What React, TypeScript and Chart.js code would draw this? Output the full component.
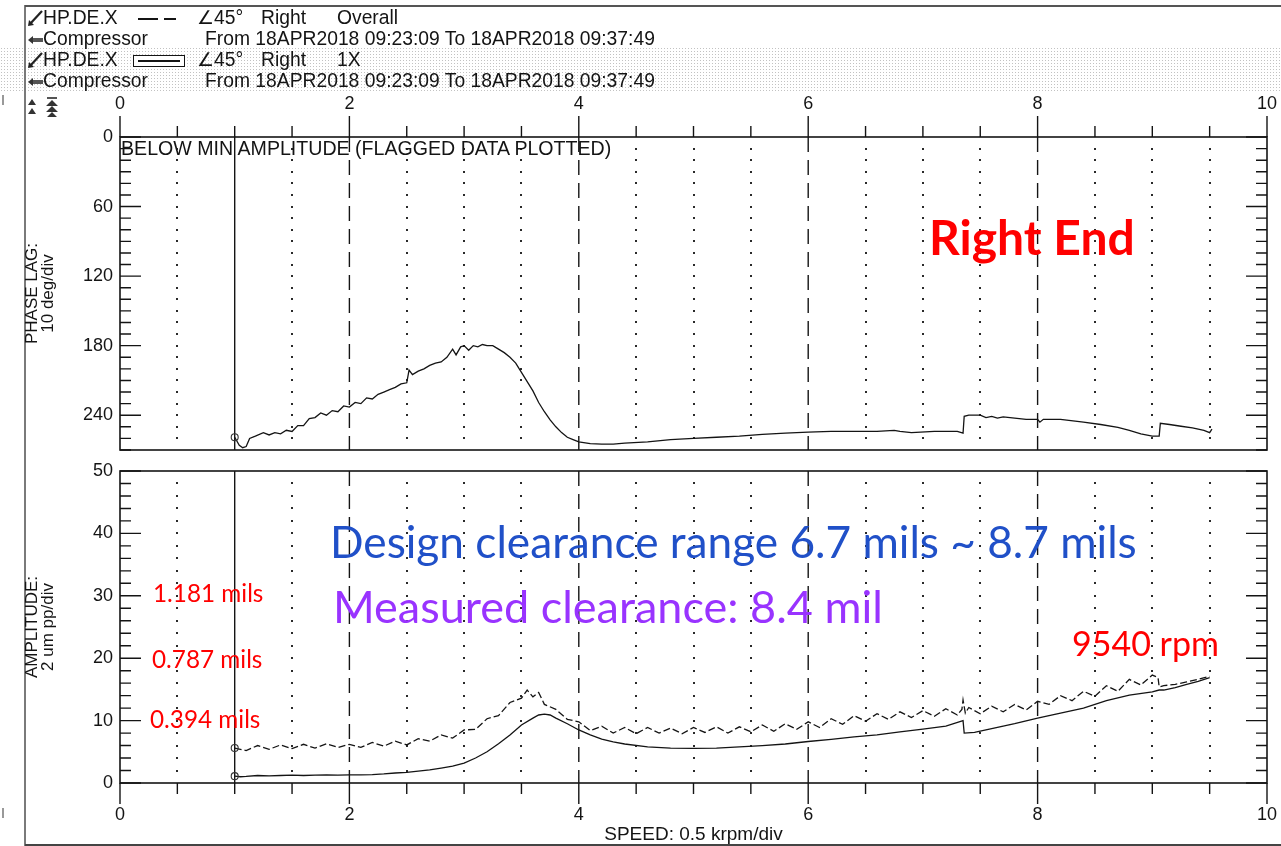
import React, { useEffect, useRef } from 'react';
import { Chart, registerables } from 'chart.js';

Chart.register(...registerables);

// ---------------- data (speed in krpm) ----------------
const phaseSpeed = [
  1.00, 1.04, 1.07, 1.10, 1.13, 1.18, 1.25, 1.30, 1.35, 1.40,
  1.45, 1.50, 1.55, 1.60, 1.65, 1.70, 1.75, 1.80, 1.85, 1.90,
  1.95, 2.00, 2.05, 2.10, 2.15, 2.20, 2.25, 2.30, 2.35, 2.40,
  2.45, 2.50, 2.52, 2.55, 2.60, 2.65, 2.70, 2.75, 2.80, 2.85,
  2.90, 2.93, 2.97, 3.00, 3.04, 3.08, 3.12, 3.16, 3.20, 3.25,
  3.30, 3.35, 3.40, 3.45, 3.50, 3.55, 3.60, 3.65, 3.70, 3.75,
  3.80, 3.85, 3.90, 3.95, 4.00, 4.10, 4.20, 4.30, 4.40, 4.60,
  4.80, 5.00, 5.20, 5.40, 5.60, 5.80, 6.00, 6.20, 6.40, 6.60,
  6.75, 6.80, 6.90, 7.10, 7.30, 7.35, 7.36, 7.40, 7.50, 7.55,
  7.60, 7.65, 7.70, 7.80, 7.90, 8.00, 8.02, 8.05, 8.20, 8.40,
  8.55, 8.70, 8.80, 8.90, 9.00, 9.06, 9.07, 9.15, 9.25, 9.35,
  9.45, 9.50, 9.52,
];
const phaseLag = [
  259, 266, 268, 267, 260, 258, 255, 257, 255, 256,
  253, 254, 249, 249, 243, 242, 238, 240, 236, 237,
  232, 233, 229, 230, 225, 226, 222, 220, 218, 216,
  213, 212, 201, 205, 202, 200, 197, 195, 194, 190,
  183, 188, 181, 180, 184, 180, 181, 179, 180, 180,
  183, 186, 190, 195, 203, 211, 219, 229, 237, 244,
  250, 255, 259, 261, 263, 264.5, 265, 265, 264, 263,
  261, 260, 259, 258, 256.5, 255.5, 254.5, 254, 254, 254,
  253, 254, 255, 254, 254, 255.5, 241, 240, 240, 242,
  241, 242.5, 241.5, 242.5, 243.5, 243.5, 246, 243.5, 243.5, 246,
  248, 250.5, 253, 256, 258, 258, 247, 248, 249.5, 251,
  253, 255, 252,
];

const amp1XSpeed = [
  1.0, 1.05, 1.1, 1.2, 1.3, 1.4, 1.5, 1.6, 1.7, 1.8,
  1.9, 2.0, 2.1, 2.2, 2.3, 2.4, 2.5, 2.6, 2.7, 2.8,
  2.9, 3.0, 3.1, 3.2, 3.3, 3.4, 3.5, 3.6, 3.65, 3.7,
  3.75, 3.8, 3.9, 4.0, 4.1, 4.2, 4.3, 4.4, 4.6, 4.8,
  5.0, 5.2, 5.4, 5.6, 5.8, 6.0, 6.2, 6.4, 6.6, 6.8,
  7.0, 7.2, 7.35, 7.36, 7.45, 7.6, 7.8, 8.0, 8.2, 8.4,
  8.6, 8.8, 9.0, 9.06, 9.1, 9.2, 9.3, 9.4, 9.5,
];
const amp1X = [
  1.1, 1.0, 1.05, 1.2, 1.15, 1.2, 1.25, 1.2, 1.25, 1.3,
  1.25, 1.3, 1.3, 1.35, 1.45, 1.6, 1.7, 1.9, 2.1, 2.4,
  2.7, 3.2, 4.0, 5.0, 6.3, 7.7, 9.3, 10.4, 10.9, 11.05,
  10.9, 10.4, 9.5, 8.5, 7.7, 7.05, 6.6, 6.25, 5.8, 5.6,
  5.55, 5.6, 5.8, 6.0, 6.25, 6.65, 7.0, 7.4, 7.7, 8.2,
  8.65, 9.1, 10.0, 8.0, 8.1, 8.7, 9.5, 10.4, 11.2, 12.0,
  13.2, 14.1, 14.6, 14.9, 14.9, 15.3, 15.8, 16.3, 16.9,
];

const ampOverallSpeed = [
  1.0, 1.1, 1.2, 1.3, 1.4, 1.5, 1.6, 1.7, 1.8, 1.9,
  2.0, 2.1, 2.2, 2.3, 2.4, 2.5, 2.6, 2.7, 2.8, 2.9,
  3.0, 3.1, 3.2, 3.3, 3.4, 3.5, 3.55, 3.6, 3.65, 3.7,
  3.8, 3.9, 4.0, 4.1, 4.2, 4.3, 4.4, 4.5, 4.6, 4.7,
  4.8, 4.9, 5.0, 5.1, 5.2, 5.3, 5.4, 5.5, 5.6, 5.7,
  5.8, 5.9, 6.0, 6.1, 6.2, 6.3, 6.4, 6.5, 6.6, 6.7,
  6.8, 6.9, 7.0, 7.1, 7.2, 7.3, 7.34, 7.35, 7.37, 7.4,
  7.5, 7.6, 7.7, 7.8, 7.9, 8.0, 8.1, 8.2, 8.3, 8.4,
  8.5, 8.6, 8.7, 8.8, 8.9, 9.0, 9.05, 9.06, 9.1, 9.2,
  9.3, 9.4, 9.5,
];
const ampOverall = [
  5.6, 5.2, 6.0, 5.4, 6.1, 5.5, 6.2, 5.6, 6.3, 5.7,
  6.2, 5.7, 6.5, 5.9, 6.7, 6.1, 7.1, 6.7, 7.7, 7.2,
  8.5, 8.6, 10.3, 10.8, 12.9, 13.6, 14.9, 13.8, 14.5, 12.6,
  11.8, 10.2, 9.8, 8.4, 9.1, 8.0, 8.9, 7.9, 8.9, 8.0,
  8.8, 7.9, 8.9, 8.1, 9.0, 8.0, 9.0, 8.2, 9.3, 8.3,
  9.5, 8.6, 9.8, 8.9, 10.3, 9.4, 10.8, 9.9, 11.1, 10.2,
  11.4, 10.5, 11.6, 10.7, 11.9, 10.9, 11.8, 13.3, 11.2, 12.1,
  11.1, 12.3, 11.4, 12.6, 11.7, 13.1, 12.6, 14.0, 13.2, 14.7,
  13.9, 15.6, 14.7, 16.6, 15.7, 17.3, 16.9, 15.4, 15.6, 15.8,
  16.2, 16.6, 17.1,
];

// ---------------- axes ----------------
const speedTickLabels = [0, 2, 4, 6, 8, 10];
const phaseTickLabels = [0, 60, 120, 180, 240];
const ampTickLabels = [0, 10, 20, 30, 40, 50];
const speedHalfTicks = [0, 0.5, 1, 1.5, 2, 2.5, 3, 3.5, 4, 4.5, 5, 5.5, 6, 6.5, 7, 7.5, 8, 8.5, 9, 9.5, 10];
const phaseMinorTicks = [0, 10, 20, 30, 40, 50, 60, 70, 80, 90, 100, 110, 120, 130, 140, 150, 160, 170, 180, 190, 200, 210, 220, 230, 240, 250, 260, 270];
const ampMinorTicks = [0, 2, 4, 6, 8, 10, 12, 14, 16, 18, 20, 22, 24, 26, 28, 30, 32, 34, 36, 38, 40, 42, 44, 46, 48, 50];
const solidGridSpeeds = [1];
const dashedGridSpeeds = [2, 4, 6, 8];
const dottedGridSpeeds = [0.5, 1.5, 2.5, 3, 3.5, 4.5, 5, 5.5, 6.5, 7, 7.5, 8.5, 9, 9.5];

const INK = '#141414';
const SANS = '"Liberation Sans", Arial, Helvetica, sans-serif';
const CALLOUT = 'Lato, "Open Sans", sans-serif';
const TICK_FONT = { family: SANS, size: 18 };

const framePlugin = {
  id: 'frame',
  beforeDatasetsDraw(chart: any, _a: any, o: any) {
    const { ctx, chartArea: a, scales } = chart;
    const xs = scales.x;
    const ys = scales.y;
    ctx.save();
    ctx.fillStyle = '#2a2a2a';
    dottedGridSpeeds.forEach((s) => {
      const px = Math.round(xs.getPixelForValue(s));
      o.minor.forEach((v: number) => {
        const py = Math.round(ys.getPixelForValue(v));
        if (py < a.top + 4 || py > a.bottom - 4) return;
        ctx.fillRect(px - 1, py - 1, 2, 2);
      });
    });
    ctx.strokeStyle = INK;
    ctx.lineWidth = 1.4;
    ctx.setLineDash([15, 8]);
    dashedGridSpeeds.forEach((s) => {
      const px = xs.getPixelForValue(s);
      ctx.beginPath();
      ctx.moveTo(px, a.top);
      ctx.lineTo(px, a.bottom);
      ctx.stroke();
    });
    ctx.setLineDash([]);
    solidGridSpeeds.forEach((s) => {
      const px = xs.getPixelForValue(s);
      ctx.beginPath();
      ctx.moveTo(px, a.top);
      ctx.lineTo(px, a.bottom);
      ctx.stroke();
    });
    ctx.restore();
  },
  afterDatasetsDraw(chart: any, _a: any, o: any) {
    const { ctx, chartArea: a, scales } = chart;
    const xs = scales.x;
    const ys = scales.y;
    ctx.save();
    ctx.strokeStyle = INK;
    ctx.lineWidth = 1.6;
    ctx.strokeRect(a.left, a.top, a.right - a.left, a.bottom - a.top);
    ctx.lineWidth = 1.4;
    ctx.beginPath();
    o.minor.forEach((v: number) => {
      const py = ys.getPixelForValue(v);
      const len = o.major.includes(v) ? 21 : 11;
      ctx.moveTo(a.left, py);
      ctx.lineTo(a.left + len, py);
      ctx.moveTo(a.right, py);
      ctx.lineTo(a.right - len, py);
    });
    speedHalfTicks.forEach((s) => {
      const px = xs.getPixelForValue(s);
      const len = speedTickLabels.includes(s) ? 21 : 11;
      if (o.side === 'top') {
        ctx.moveTo(px, a.top);
        ctx.lineTo(px, a.top - len);
      } else {
        ctx.moveTo(px, a.bottom);
        ctx.lineTo(px, a.bottom + len);
      }
    });
    ctx.stroke();
    ctx.restore();
  },
};

function lineDataset(xv: number[], yv: number[], dash: number[]) {
  return {
    data: xv.map((x, i) => ({ x, y: yv[i] })),
    borderColor: INK,
    borderWidth: 1.3,
    borderDash: dash,
    tension: 0,
    fill: false,
    pointRadius: (c: any) => (c.dataIndex === 0 ? 3.5 : 0),
    pointHoverRadius: 0,
    pointBorderColor: '#333',
    pointBorderWidth: 1.1,
    pointBackgroundColor: 'rgba(255,255,255,0)',
  };
}

function xScale(position: 'top' | 'bottom', withTitle: boolean) {
  return {
    type: 'linear',
    position,
    min: 0,
    max: 10,
    afterBuildTicks: (s: any) => {
      s.ticks = speedTickLabels.map((v) => ({ value: v }));
    },
    afterFit: (s: any) => {
      s.height = position === 'top' ? 137 : 63;
    },
    // tick marks are drawn by the frame plugin; tickLength only offsets the labels
    grid: { display: false, drawTicks: true, tickLength: position === 'top' ? 22 : 21 },
    border: { display: false },
    ticks: {
      padding: 0,
      font: TICK_FONT,
      color: INK,
      maxRotation: 0,
      autoSkip: false,
      callback: (v: any) => String(v),
    },
    title: withTitle
      ? { display: true, text: 'SPEED: 0.5 krpm/div', font: { family: SANS, size: 19 }, color: INK, padding: { top: 0, bottom: 0 } }
      : { display: false },
  };
}

function yScale(min: number, max: number, reverse: boolean, labels: number[], title: string[]) {
  return {
    type: 'linear',
    position: 'left',
    min,
    max,
    reverse,
    afterBuildTicks: (s: any) => {
      s.ticks = labels.map((v) => ({ value: v }));
    },
    afterFit: (s: any) => {
      s.width = 120;
    },
    grid: { display: false, drawTicks: true, tickLength: 7 },
    border: { display: false },
    ticks: { padding: 0, font: TICK_FONT, color: INK, autoSkip: false, callback: (v: any) => String(v) },
    title: {
      display: true,
      text: title,
      font: { family: SANS, size: 17, lineHeight: 0.95 },
      color: INK,
      padding: { top: 24, bottom: 0 },
    },
  };
}

function baseOptions(padding: any, frame: any) {
  return {
    responsive: false,
    animation: false,
    devicePixelRatio: 1,
    events: [],
    layout: { padding },
    plugins: {
      legend: { display: false },
      tooltip: { enabled: false },
      frame,
    },
  };
}

const abs = (left: number, top: number, extra: any = {}) => ({ position: 'absolute' as const, left, top, whiteSpace: 'pre' as const, ...extra });

function HeaderText({ left, top, size = 19.3, children }: any) {
  return <div style={abs(left, top, { font: `${size}px ${SANS}`, lineHeight: '20px', color: INK })}>{children}</div>;
}

function Callout({ left, top, size, color, bold, children }: any) {
  return (
    <div style={abs(left, top, { fontFamily: CALLOUT, fontSize: size, fontWeight: bold ? 700 : 400, lineHeight: 1, color })}>
      {children}
    </div>
  );
}

function PenIcon({ top }: { top: number }) {
  return (
    <svg style={{ position: 'absolute', left: 27, top }} width={17} height={18}>
      <path d="M3 15 L15 2" stroke="#222" strokeWidth={2.2} />
      <path d="M1 17 L2 11 L7 16 Z" fill="#222" />
    </svg>
  );
}

function LinkIcon({ top }: { top: number }) {
  return (
    <svg style={{ position: 'absolute', left: 27, top }} width={17} height={12}>
      <path d="M1 6 L6 2 L6 10 Z" fill="#333" />
      <rect x={6} y={4} width={10} height={4} fill="#555" />
    </svg>
  );
}

export default function App() {
  const phaseRef = useRef<HTMLCanvasElement>(null);
  const ampRef = useRef<HTMLCanvasElement>(null);

  useEffect(() => {
    const phase = new Chart(phaseRef.current as HTMLCanvasElement, {
      type: 'line',
      data: { datasets: [lineDataset(phaseSpeed, phaseLag, [])] as any },
      options: {
        ...baseOptions({ left: 0, right: 14, top: 0, bottom: 15 }, { minor: phaseMinorTicks, major: phaseTickLabels, side: 'top' }),
        scales: {
          x: xScale('top', false),
          y: yScale(0, 270, true, phaseTickLabels, ['PHASE LAG:', '10 deg/div']),
        },
      } as any,
      plugins: [framePlugin as any],
    });
    const amp = new Chart(ampRef.current as HTMLCanvasElement, {
      type: 'line',
      data: {
        datasets: [lineDataset(ampOverallSpeed, ampOverall, [7, 3]), lineDataset(amp1XSpeed, amp1X, [])] as any,
      },
      options: {
        ...baseOptions({ left: 0, right: 14, top: 16, bottom: 0 }, { minor: ampMinorTicks, major: ampTickLabels, side: 'bottom' }),
        scales: {
          x: xScale('bottom', true),
          y: yScale(0, 50, false, ampTickLabels, ['AMPLITUDE:', '2 um pp/div']),
        },
      } as any,
      plugins: [framePlugin as any],
    });
    return () => {
      phase.destroy();
      amp.destroy();
    };
  }, []);

  return (
    <div style={{ position: 'absolute', left: 0, top: 0, width: 1281, height: 846, overflow: 'hidden', background: '#fff' }}>
      {/* scanned stipple band */}
      <div
        style={{
          position: 'absolute', left: 0, top: 47, width: 1281, height: 44,
          backgroundImage: 'radial-gradient(circle, #c2c2c2 0.6px, rgba(255,255,255,0) 1px)',
          backgroundSize: '3px 3px',
        }}
      />
      {/* page edges */}
      <div style={{ position: 'absolute', left: 24, top: 5, width: 2, height: 841, background: '#7a7a7a' }} />
      <div style={{ position: 'absolute', left: 25, top: 5, width: 1256, height: 1.5, background: '#555' }} />
      <div style={{ position: 'absolute', left: 25, top: 844, width: 1256, height: 1.5, background: '#444' }} />
      <div style={{ position: 'absolute', left: 2, top: 95, width: 1.5, height: 10, background: '#999' }} />
      <div style={{ position: 'absolute', left: 2, top: 808, width: 1.5, height: 10, background: '#999' }} />

      <canvas ref={phaseRef} width={1281} height={465} style={{ position: 'absolute', left: 0, top: 0 }} />
      <canvas ref={ampRef} width={1281} height={391} style={{ position: 'absolute', left: 0, top: 455 }} />

      {/* header */}
      <PenIcon top={9} />
      <HeaderText left={43} top={8}>HP.DE.X</HeaderText>
      <div style={{ position: 'absolute', left: 138, top: 18, width: 20, height: 2, background: INK }} />
      <div style={{ position: 'absolute', left: 164, top: 18, width: 12, height: 2, background: INK }} />
      <HeaderText left={197} top={8}>∠45°</HeaderText>
      <HeaderText left={261} top={8}>Right</HeaderText>
      <HeaderText left={337} top={8}>Overall</HeaderText>

      <LinkIcon top={34} />
      <HeaderText left={43} top={29}>Compressor</HeaderText>
      <HeaderText left={205} top={29}>From 18APR2018 09:23:09 To 18APR2018 09:37:49</HeaderText>

      <PenIcon top={51} />
      <HeaderText left={43} top={50}>HP.DE.X</HeaderText>
      <div style={{ position: 'absolute', left: 133, top: 55, width: 50, height: 10, border: `1.5px solid ${INK}`, background: '#fff' }}>
        <div style={{ position: 'absolute', left: 4, top: 4, width: 42, height: 1.5, background: INK }} />
      </div>
      <HeaderText left={197} top={50}>∠45°</HeaderText>
      <HeaderText left={261} top={50}>Right</HeaderText>
      <HeaderText left={337} top={50}>1X</HeaderText>

      <LinkIcon top={76} />
      <HeaderText left={43} top={71}>Compressor</HeaderText>
      <HeaderText left={205} top={71}>From 18APR2018 09:23:09 To 18APR2018 09:37:49</HeaderText>

      {/* small scroll icons */}
      <svg style={{ position: 'absolute', left: 27, top: 97 }} width={36} height={22}>
        <path d="M1 8 L5 2 L9 8 Z M1 17 L5 11 L9 17 Z" fill="#333" />
        <rect x={20} y={0} width={10} height={2} fill="#555" />
        <path d="M19 9 L25 3 L31 9 Z M19 15 L25 9 L31 15 Z M20 20 L25 15 L30 20 Z" fill="#333" />
      </svg>

      <HeaderText left={121} top={138} size={19.6}>BELOW MIN AMPLITUDE (FLAGGED DATA PLOTTED)</HeaderText>

      {/* callouts */}
      <Callout left={929} top={213} size={48} color="#ff0000" bold>Right End</Callout>
      <Callout left={330} top={519} size={44.2} color="#2050c8">Design clearance range 6.7 mils ~ 8.7 mils</Callout>
      <Callout left={333} top={584} size={45} color="#9933ff">Measured clearance: 8.4 mil</Callout>
      <Callout left={1072} top={626} size={34} color="#ff0000">9540 rpm</Callout>
      <Callout left={153} top={581} size={24.3} color="#ff0000">1.181 mils</Callout>
      <Callout left={152} top={647} size={24.3} color="#ff0000">0.787 mils</Callout>
      <Callout left={150} top={707} size={24.3} color="#ff0000">0.394 mils</Callout>
    </div>
  );
}
